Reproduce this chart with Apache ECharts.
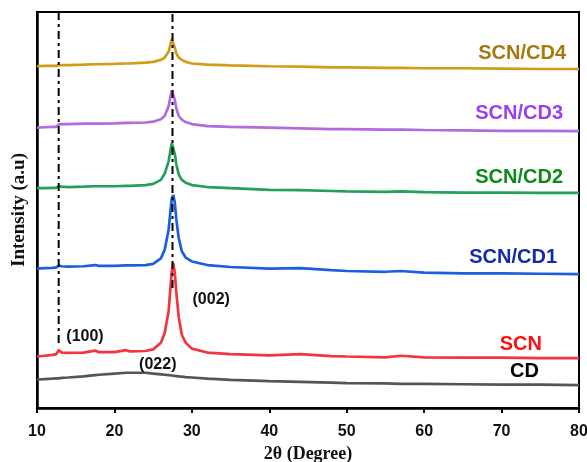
<!DOCTYPE html>
<html>
<head>
<meta charset="utf-8">
<script src="https://cdn.jsdelivr.net/npm/echarts@6/dist/echarts.min.js"></script>
<style>html,body{margin:0;padding:0;background:#fff;}#c{width:587px;height:462px;}</style>
</head>
<body>
<div id="c"></div>
<script>
var twoTheta = [10,11,12,12.5,12.8,13.2,14,16,17.5,18,20,21.5,22,24,25,26,26.5,27,27.2,27.4,27.6,27.8,28,28.3,28.7,29.2,30,32,35,40,44,48,50,55,57,60,65,70,75,80];
var xTicks = [10,20,30,40,50,60,70,80];
var seriesNames = ['SCN/CD4','SCN/CD3','SCN/CD2','SCN/CD1','SCN','CD'];
var cd4 = [86.3,86.4,86.4,86.4,86.6,86.6,86.6,86.7,86.8,86.8,86.9,87.0,87.0,87.2,87.4,87.9,88.5,90.0,91.5,93.2,92.8,91.0,89.5,88.5,87.9,87.4,87.0,86.7,86.5,86.3,86.2,86.0,86.0,85.9,85.9,85.8,85.8,85.7,85.6,85.6];
var cd3 = [70.8,70.9,71.0,71.0,71.6,71.7,71.7,71.8,71.8,71.8,71.9,72.0,72.0,72.1,72.3,72.9,73.8,76.2,78.2,80.2,79.8,77.8,75.6,73.8,72.8,72.2,71.7,71.2,71.0,70.8,70.6,70.4,70.4,70.3,70.3,70.2,70.1,70.0,70.0,69.9];
var cd2 = [55.5,55.5,55.6,55.6,56.0,55.9,55.8,55.9,56.0,56.0,56.0,56.1,56.1,56.3,56.6,57.6,59.2,62.3,64.6,66.9,66.4,64.2,61.5,59.0,57.6,56.9,56.3,55.8,55.5,55.1,55.0,54.8,54.7,54.6,54.7,54.5,54.4,54.4,54.3,54.3];
var cd1 = [35.2,35.3,35.4,35.5,36.0,35.8,35.7,35.8,36.1,35.9,35.9,36.0,36.0,36.1,36.4,37.8,40.0,45.0,49.0,52.8,53.8,51.8,47.5,43.0,39.6,38.0,37.0,36.1,35.6,35.2,35.3,34.8,34.6,34.4,34.6,34.2,34.0,34.0,33.9,33.8];
var scn = [13.0,13.2,13.4,13.6,14.6,14.0,13.9,14.0,14.5,14.1,14.1,14.6,14.3,14.4,14.8,16.5,19.0,24.5,29.5,34.5,36.6,34.0,29.0,23.0,18.5,16.5,15.0,14.0,13.6,13.3,13.6,13.1,13.0,12.8,13.2,12.8,12.7,12.7,12.6,12.6];
var cd = [7.2,7.3,7.4,7.5,7.5,7.6,7.7,8.0,8.3,8.4,8.7,8.9,8.9,8.9,8.7,8.5,8.4,8.3,8.2,8.2,8.1,8.1,8.0,8.0,7.9,7.8,7.7,7.4,7.1,6.8,6.6,6.4,6.3,6.2,6.1,6.1,6.0,5.9,5.9,5.8];
var refLines = [{x: 12.8, from: 16.4, to: 100}, {x: 27.5, from: 30.3, to: 100}];
var peakLabels = [{text: '(100)', x: 16.2, y: 18.0}, {text: '(002)', x: 32.5, y: 27.3}, {text: '(022)', x: 25.6, y: 11.0}];

var lineColors = ['#d29c14','#b36ae0','#22a05c','#1a5fdf','#f2353f','#555555'];
var labelColors = ['#a8780e','#9b3ff0','#0b8a1a','#1428b0','#ff1010','#000000'];
var labelPos = [[566,53.5],[563,113.5],[563,177],[557,257],[542,344],[539,371]];
var allY = [cd4, cd3, cd2, cd1, scn, cd];

var chart = echarts.init(document.getElementById('c'), null, {renderer: 'canvas'});
var series = [];
allY.forEach(function (vals, i) {
  series.push({
    name: seriesNames[i], type: 'line', showSymbol: false, symbol: 'none',
    data: twoTheta.map(function (x, k) { return [x, vals[k]]; }),
    lineStyle: {color: lineColors[i], width: 2.7}, z: 2, silent: true
  });
});
refLines.forEach(function (r) {
  series.push({
    type: 'line', symbol: 'none', silent: true, z: 5,
    data: [[r.x, r.from], [r.x, r.to]],
    lineStyle: {color: '#000', width: 2, type: [8, 4, 3, 4]}
  });
});

var graphics = seriesNames.map(function (n, i) {
  return {type: 'text', right: 587 - labelPos[i][0], top: labelPos[i][1] - 10,
    style: {text: n, fill: labelColors[i], font: 'bold 20px "Liberation Sans", Arial, sans-serif'}};
});

chart.setOption({
  animation: false,
  backgroundColor: '#fff',
  grid: {left: 37, right: 8, top: 12, bottom: 54, show: true, borderColor: '#000', borderWidth: 2, outerBoundsMode: 'none', containLabel: false},
  xAxis: {
    type: 'value', min: 10, max: 80, interval: 10,
    name: '2θ (Degree)', nameLocation: 'middle', nameGap: 36,
    nameTextStyle: {fontFamily: '"Liberation Serif", "Times New Roman", serif', fontWeight: 'bold', fontSize: 18, color: '#111'},
    axisLine: {lineStyle: {color: '#000', width: 2.5}},
    axisTick: {show: true, inside: false, length: 5, lineStyle: {color: '#000', width: 2}},
    axisLabel: {color: '#111', fontWeight: 'bold', fontSize: 16, margin: 16, fontFamily: '"Liberation Sans", Arial, sans-serif',
      formatter: function (v) { return xTicks.indexOf(v) >= 0 ? String(v) : ''; }},
    splitLine: {show: false}
  },
  yAxis: {
    type: 'value', min: 0, max: 100,
    name: 'Intensity (a.u)', nameLocation: 'middle', nameGap: 8, nameRotate: 90,
    nameTextStyle: {fontFamily: '"Liberation Serif", "Times New Roman", serif', fontWeight: 'bold', fontSize: 19, color: '#111'},
    axisLine: {show: true, lineStyle: {color: '#000', width: 2.5}},
    axisTick: {show: false}, axisLabel: {show: false}, splitLine: {show: false}
  },
  graphic: graphics,
  series: series
});

var peakGraphics = peakLabels.map(function (p) {
  var px = chart.convertToPixel({gridIndex: 0}, [p.x, p.y]);
  return {type: 'text', x: px[0], y: px[1], z: 10,
    style: {text: p.text, fill: '#111', align: 'center', verticalAlign: 'middle', font: 'bold 16px "Liberation Sans", Arial, sans-serif'}};
});
chart.setOption({graphic: graphics.concat(peakGraphics)});
</script>
</body>
</html>
